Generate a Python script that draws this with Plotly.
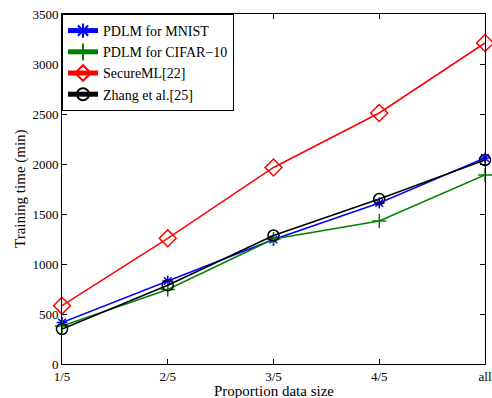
import plotly.graph_objects as go

categories = ["1/5", "2/5", "3/5", "4/5", "all"]
mnist = [415, 830, 1245, 1610, 2060]
cifar = [380, 745, 1250, 1430, 1890]
secureml = [583, 1257, 1965, 2510, 3210]
zhang = [350, 787, 1285, 1650, 2040]

fig = go.Figure()
series = [
    ("PDLM for MNIST", mnist, "#0000ff", "asterisk-open", 9),
    ("PDLM for CIFAR\u221210", cifar, "#008000", "cross-thin-open", 10),
    ("SecureML[22]", secureml, "#ff0000", "diamond-open", 13),
    ("Zhang et al.[25]", zhang, "#000000", "circle-open", 11),
]
for name, vals, color, sym, size in series:
    fig.add_trace(go.Scatter(
        x=list(range(len(categories))), y=vals, name=name, mode="lines+markers",
        line=dict(color=color, width=1.5),
        marker=dict(symbol=sym, size=size, color=color, line=dict(color=color, width=1.5)),
        cliponaxis=False,
    ))

fig.update_layout(
    width=492, height=398,
    margin=dict(l=62, r=7, t=14, b=34, autoexpand=False),
    paper_bgcolor="white", plot_bgcolor="white",
    font=dict(family="Liberation Serif", size=13, color="black"),
    legend=dict(x=0, y=1, xanchor="left", yanchor="top", bordercolor="black", borderwidth=1,
                bgcolor="white", font=dict(size=14), tracegroupgap=0, itemsizing="constant",
                itemwidth=30),
    showlegend=True,
    annotations=[
        dict(text="Proportion data size", xref="paper", yref="paper", x=0.5, y=0,
             xanchor="center", yanchor="top", yshift=-17, showarrow=False, font=dict(size=15)),
        dict(text="Training time (min)", xref="paper", yref="paper", x=0, y=0.5,
             xanchor="center", yanchor="middle", xshift=-42, textangle=-90, showarrow=False,
             font=dict(size=15)),
    ],
)
fig.update_xaxes(
    range=[0, 4], tickvals=list(range(len(categories))), ticktext=categories,
    ticks="inside", ticklen=5, tickcolor="black", showline=True, linecolor="black", linewidth=1,
    mirror="ticks", showgrid=False, zeroline=False, automargin=False, ticklabeloverflow="allow",
)
fig.update_yaxes(
    range=[0, 3500], dtick=500,
    ticks="inside", ticklen=5, tickcolor="black", showline=True, linecolor="black", linewidth=1,
    mirror="ticks", showgrid=False, zeroline=False, automargin=False, ticklabeloverflow="allow",
)
fig.write_html(
    "out.html",
    config={"displayModeBar": False},
    post_script="document.body.style.margin='0';document.body.style.overflow='hidden';",
)
